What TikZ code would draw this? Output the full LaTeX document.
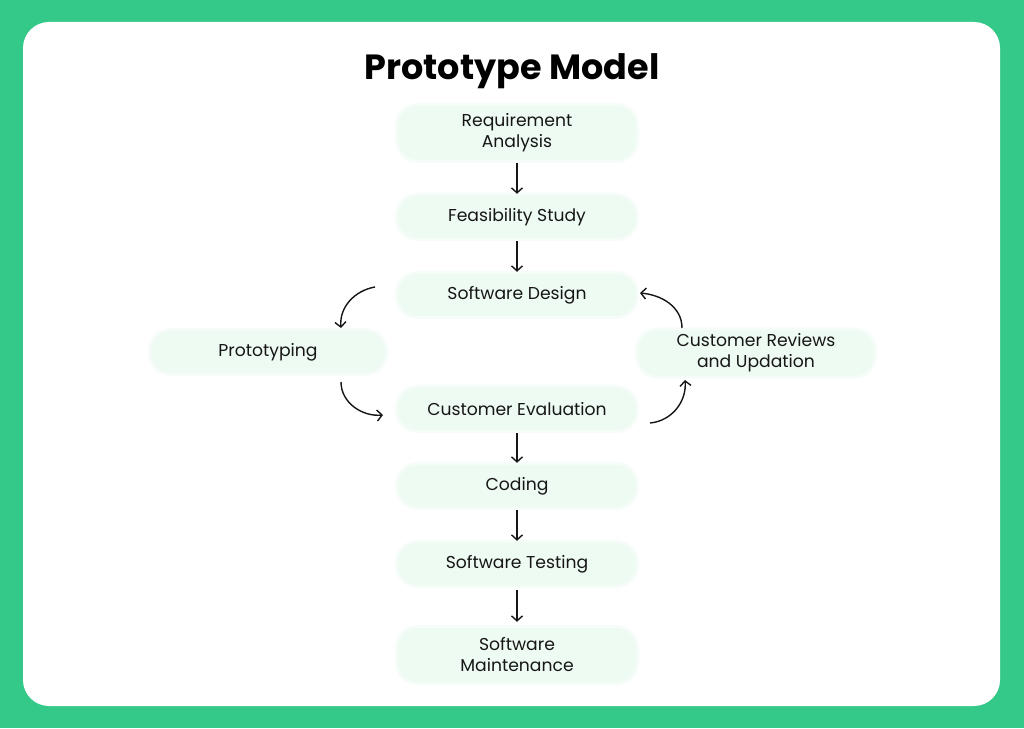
\documentclass[tikz,border=0pt]{standalone}
\usepackage{fontspec}
\setmainfont{Poppins}
\usetikzlibrary{arrows.meta}
\definecolor{bggreen}{RGB}{52,201,137}
\definecolor{boxgreen}{RGB}{238,251,243}
\definecolor{boxglow}{RGB}{246,253,249}
\definecolor{ink}{RGB}{22,22,22}
\tikzset{
  stage/.style={fill=boxgreen, draw=none, rounded corners=20pt, minimum width=238pt,
    minimum height=42pt, align=center, text=ink, font=\fontsize{17.2}{21}\selectfont,
    preaction={draw=boxglow, line width=6pt, rounded corners=20pt}},
  tall/.style={minimum height=54pt},
  arr/.style={draw=ink, line width=1.4pt, -{Straight Barb[length=5pt,width=11pt,line width=1.4pt]}},
}
\begin{document}
\begin{tikzpicture}[x=1pt,y=1pt]
\useasboundingbox (0,0) rectangle (1024,728);
\fill[bggreen] (0,0) rectangle (1024,728);
\fill[white, rounded corners=26pt] (23,22) rectangle (1000,706);
\node[text=black, font=\fontsize{35}{40}\selectfont\bfseries] (title) at (512,657) {Prototype Model};
\node[stage, tall] (req) at (517,595) {Requirement\\Analysis};
\node[stage] (feas) at (517,511) {Feasibility Study};
\node[stage] (sd) at (517,433) {Software Design};
\node[stage, minimum width=234pt] (proto) at (268,376) {Prototyping};
\node[stage, minimum width=236pt] (crev) at (756,375) {Customer Reviews\\and Updation};
\node[stage] (ceval) at (517,319) {Customer Evaluation};
\node[stage] (coding) at (517,242) {Coding};
\node[stage] (test) at (517,164) {Software Testing};
\node[stage, tall] (maint) at (517,73) {Software\\Maintenance};
\draw[arr, shorten <=3pt, shorten >=2pt] (req) -- (feas);
\draw[arr, shorten <=3pt, shorten >=2pt] (feas) -- (sd);
\draw[arr, shorten <=3pt, shorten >=2pt] (ceval) -- (coding);
\draw[arr, shorten <=3pt, shorten >=2pt] (coding) -- (test);
\draw[arr, shorten <=5pt, shorten >=6pt] (test) -- (maint);
\coordinate (a1s) at (375,441); \coordinate (a1e) at (341,400);
\coordinate (a2s) at (341,346); \coordinate (a2e) at (383,313);
\coordinate (a3s) at (650,305); \coordinate (a3e) at (685,348);
\coordinate (a4s) at (682,400); \coordinate (a4e) at (640,435);
\draw[arr] (a1s) to[out=190,in=95] (a1e);
\draw[arr] (a2s) to[out=-90,in=185] (a2e);
\draw[arr] (a3s) to[out=5,in=-85] (a3e);
\draw[arr] (a4s) to[out=90,in=-5] (a4e);
\end{tikzpicture}
\end{document}
